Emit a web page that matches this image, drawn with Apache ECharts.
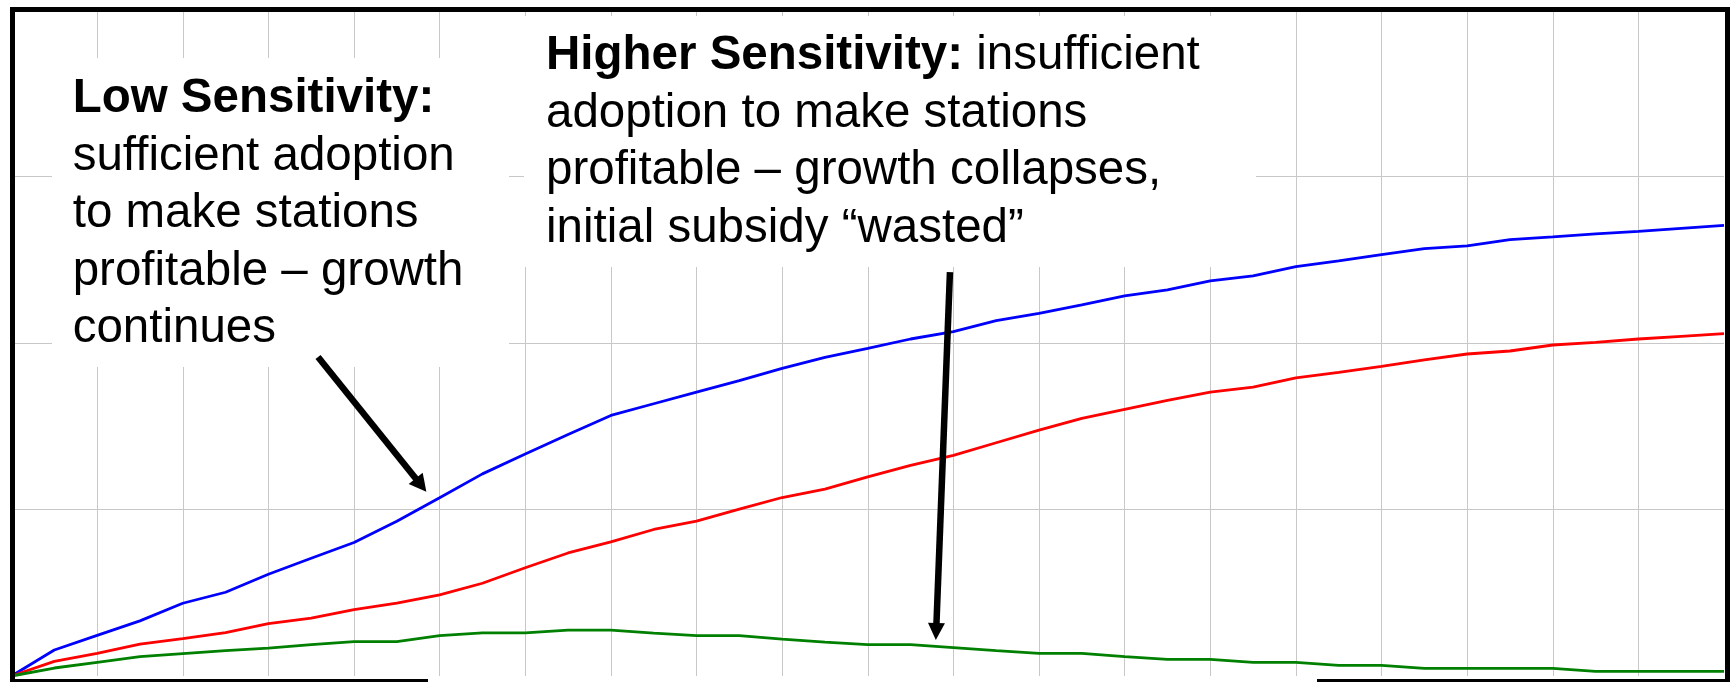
<!DOCTYPE html>
<html>
<head>
<meta charset="utf-8">
<title>Station adoption under different sensitivities</title>
<script src="https://cdn.jsdelivr.net/npm/echarts@6/dist/echarts.min.js"></script>
<style>
  html, body { margin: 0; padding: 0; background: #ffffff; }
  #chart { width: 1734px; height: 682px; }
</style>
</head>
<body>
<div id="chart"></div>
<script>
// Simulation time steps (no labels are shown on either axis)
const steps = [0, 1, 2, 3, 4, 5, 6, 7, 8, 9, 10, 11, 12, 13, 14, 15, 16, 17, 18, 19, 20,
               21, 22, 23, 24, 25, 26, 27, 28, 29, 30, 31, 32, 33, 34, 35, 36, 37, 38, 39, 40];

// Adoption paths for three sensitivity settings
const lowSensitivity = [0, 0.156, 0.244, 0.331, 0.437, 0.503, 0.611, 0.707, 0.802, 0.930, 1.070,
  1.214, 1.333, 1.451, 1.565, 1.635, 1.705, 1.774, 1.848, 1.914, 1.968,
  2.024, 2.068, 2.134, 2.178, 2.229, 2.283, 2.319, 2.373, 2.403, 2.459,
  2.493, 2.531, 2.567, 2.583, 2.621, 2.637, 2.655, 2.671, 2.689, 2.707];
const midSensitivity = [0, 0.088, 0.136, 0.192, 0.224, 0.261, 0.315, 0.347, 0.399, 0.437, 0.487,
  0.557, 0.650, 0.739, 0.806, 0.880, 0.930, 1.002, 1.072, 1.122, 1.196,
  1.265, 1.325, 1.401, 1.477, 1.547, 1.601, 1.655, 1.705, 1.735, 1.790,
  1.824, 1.860, 1.898, 1.934, 1.952, 1.988, 2.004, 2.024, 2.040, 2.056];
const highSensitivity = [0, 0.048, 0.082, 0.116, 0.134, 0.152, 0.168, 0.188, 0.206, 0.206, 0.242,
  0.259, 0.259, 0.275, 0.275, 0.257, 0.242, 0.242, 0.222, 0.204, 0.188,
  0.188, 0.170, 0.152, 0.136, 0.136, 0.116, 0.100, 0.100, 0.082, 0.082,
  0.064, 0.064, 0.046, 0.046, 0.046, 0.046, 0.028, 0.028, 0.028, 0.028];

// Axis ranges and grid spacing
const xRange = [0, 40];
const xStep = 2;
const yRange = [0, 4];
const yStep = 1;

// Annotation texts
const lowNote = ['{b|Low Sensitivity:}', 'sufficient adoption', 'to make stations',
                 'profitable \u2013 growth', 'continues'];
const highNote = ['{b|Higher Sensitivity:} insufficient', 'adoption to make stations',
                  'profitable \u2013 growth collapses,', 'initial subsidy \u201cwasted\u201d'];

// Arrow endpoints in data space: [tail, tip]
const lowArrow = [[7.16, 1.916], [9.69, 1.107]];
const highArrow = [[21.92, 2.426], [21.59, 0.216]];

const FONT = '"Liberation Sans", Arial, Helvetica, sans-serif';
const FONT_SIZE = 47.5;
const LINE_GAP = 57.4;
const GRID_COLOR = '#c8c8c8';

const chart = echarts.init(document.getElementById('chart'), null, { renderer: 'canvas' });

function toPairs(values) {
  return steps.map((t, i) => [t, values[i]]);
}

function lineSeries(name, values, color) {
  return {
    type: 'line',
    name: name,
    data: toPairs(values),
    showSymbol: false,
    symbol: 'none',
    silent: true,
    z: 2,
    lineStyle: { color: color, width: 2.8 },
    itemStyle: { color: color }
  };
}

function valueAxis(range, step) {
  return {
    type: 'value',
    min: range[0],
    max: range[1],
    interval: step,
    axisLine: { show: false },
    axisTick: { show: false },
    axisLabel: { show: false },
    splitLine: {
      show: true,
      showMinLine: false,
      showMaxLine: false,
      lineStyle: { color: GRID_COLOR, width: 1 }
    }
  };
}

chart.setOption({
  animation: false,
  backgroundColor: '#ffffff',
  grid: { left: 11.5, right: 10, top: 10, bottom: 6 },
  xAxis: valueAxis(xRange, xStep),
  yAxis: valueAxis(yRange, yStep),
  series: [
    lineSeries('Low sensitivity', lowSensitivity, '#0000ff'),
    lineSeries('Medium sensitivity', midSensitivity, '#ff0000'),
    lineSeries('Higher sensitivity', highSensitivity, '#008000')
  ]
});

// Arrow from tail to tip: straight shaft plus a filled triangular head
function arrow(id, ends, width, headLen, headWidth) {
  const a = chart.convertToPixel({ gridIndex: 0 }, ends[0]);
  const b = chart.convertToPixel({ gridIndex: 0 }, ends[1]);
  const dx = b[0] - a[0], dy = b[1] - a[1];
  const len = Math.hypot(dx, dy);
  const ux = dx / len, uy = dy / len;
  const nx = -uy, ny = ux;
  const base = [b[0] - ux * headLen, b[1] - uy * headLen];
  return [
    {
      type: 'line', id: id + '-shaft', z: 20, silent: true,
      shape: { x1: a[0], y1: a[1], x2: base[0] + ux * 2, y2: base[1] + uy * 2 },
      style: { stroke: '#000000', lineWidth: width, lineCap: 'butt' }
    },
    {
      type: 'polygon', id: id + '-head', z: 20, silent: true,
      shape: {
        points: [
          b,
          [base[0] + nx * headWidth / 2, base[1] + ny * headWidth / 2],
          [base[0] - nx * headWidth / 2, base[1] - ny * headWidth / 2]
        ]
      },
      style: { fill: '#000000' }
    }
  ];
}

// One text element per line; y is the line's middle, placed from its baseline
function noteLines(id, x, firstBaseline, lines) {
  return lines.map((t, i) => ({
    type: 'text', id: id + '-' + i, z: 25, silent: true,
    x: x,
    y: firstBaseline + i * LINE_GAP - FONT_SIZE * 0.33,
    style: {
      text: t,
      font: FONT_SIZE + 'px ' + FONT,
      fill: '#000000',
      align: 'left',
      verticalAlign: 'middle',
      rich: { b: { font: 'bold ' + FONT_SIZE + 'px ' + FONT, fill: '#000000' } }
    }
  }));
}

function block(id, x, y, w, h, z) {
  return { type: 'rect', id: id, z: z, silent: true,
           shape: { x: x, y: y, width: w, height: h },
           style: { fill: id.indexOf('box') === 0 ? '#ffffff' : '#000000' } };
}

const graphics = [
  // white panels behind the two notes
  block('box-low', 52, 58, 457, 309, 1),
  block('box-high', 524, 16, 732, 251, 1),
  // heavy frame around the plot
  block('frame-left', 10, 7, 5, 676, 30),
  block('frame-top', 10, 7, 1720, 5, 30),
  block('frame-right', 1725, 7, 5, 676, 30),
  block('frame-bottom-a', 10, 679, 418, 5, 30),
  block('frame-bottom-b', 1317, 679, 413, 5, 30)
]
  .concat(noteLines('low', 72.7, 115, lowNote))
  .concat(noteLines('high', 546, 72, highNote))
  .concat(arrow('arrow-low', lowArrow, 6.5, 17, 18))
  .concat(arrow('arrow-high', highArrow, 6.5, 17, 17));

chart.setOption({ graphic: graphics });
</script>
</body>
</html>
